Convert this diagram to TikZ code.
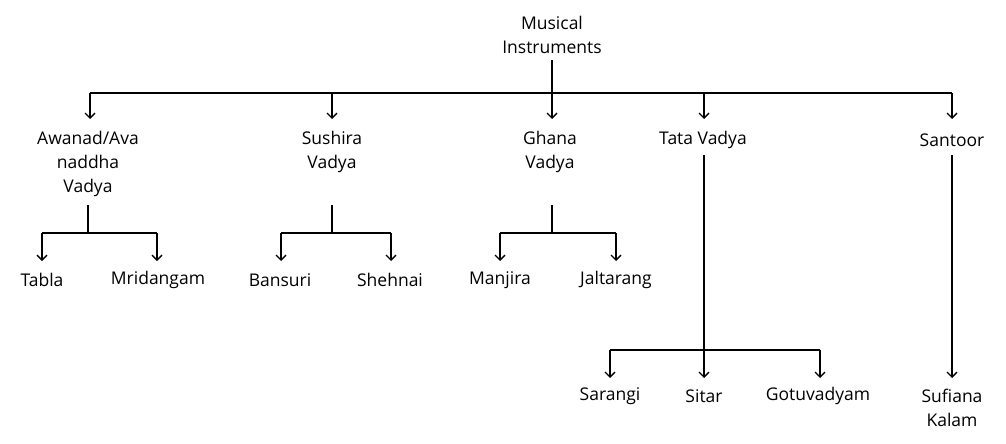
\documentclass[tikz,border=0pt]{standalone}
\usepackage{fontspec}
\setmainfont{Open Sans}
\usetikzlibrary{arrows.meta}
\begin{document}
\begin{tikzpicture}[x=1pt,y=-1pt,
  lbl/.style={font=\fontsize{17.5}{24}\selectfont,align=center,inner sep=1pt},
  ln/.style={line width=1.3pt},
  arr/.style={ln,-{Straight Barb[length=5pt,width=10pt,line width=1.3pt]}}]
\useasboundingbox (0,0) rectangle (1006,444);
\node[lbl] (root) at (552,35) {Musical\\Instruments};
\node[lbl] (a) at (88,164) {Awanad/Ava\\naddha\\Vadya};
\node[lbl] (s) at (332,152) {Sushira\\Vadya};
\node[lbl] (g) at (550,152) {Ghana\\Vadya};
\node[lbl] (t) at (703,140) {Tata Vadya};
\node[lbl] (sa) at (952,140) {Santoor};
\node[lbl] (tabla) at (42,280) {Tabla};
\node[lbl] (mri) at (158,280) {Mridangam};
\node[lbl] (ban) at (280,280) {Bansuri};
\node[lbl] (she) at (390,280) {Shehnai};
\node[lbl] (man) at (500,280) {Manjira};
\node[lbl] (jal) at (616,280) {Jaltarang};
\node[lbl] (sar) at (610,396) {Sarangi};
\node[lbl] (sit) at (704,396) {Sitar};
\node[lbl] (got) at (818,396) {Gotuvadyam};
\node[lbl] (suf) at (952,408) {Sufiana\\Kalam};
\draw[ln] (552,60) -- (552,93);
\draw[ln] (90,93) -- (952,93);
\foreach \x in {90,332,552,704,952}
  \draw[arr] (\x,93) -- (\x,119);
\draw[ln] (88,205) -- (88,233); \draw[ln] (42,233) -- (157,233);
\draw[arr] (42,233) -- (42,261); \draw[arr] (157,233) -- (157,261);
\draw[ln] (332,205) -- (332,233); \draw[ln] (281,233) -- (391,233);
\draw[arr] (281,233) -- (281,261); \draw[arr] (391,233) -- (391,261);
\draw[ln] (552,205) -- (552,233); \draw[ln] (500,233) -- (616,233);
\draw[arr] (500,233) -- (500,261); \draw[arr] (616,233) -- (616,261);
\draw[arr] (704,155) -- (704,378);
\draw[ln] (610,350) -- (820,350);
\draw[arr] (610,350) -- (610,378); \draw[arr] (820,350) -- (820,378);
\draw[arr] (952,155) -- (952,378);
\end{tikzpicture}
\end{document}
